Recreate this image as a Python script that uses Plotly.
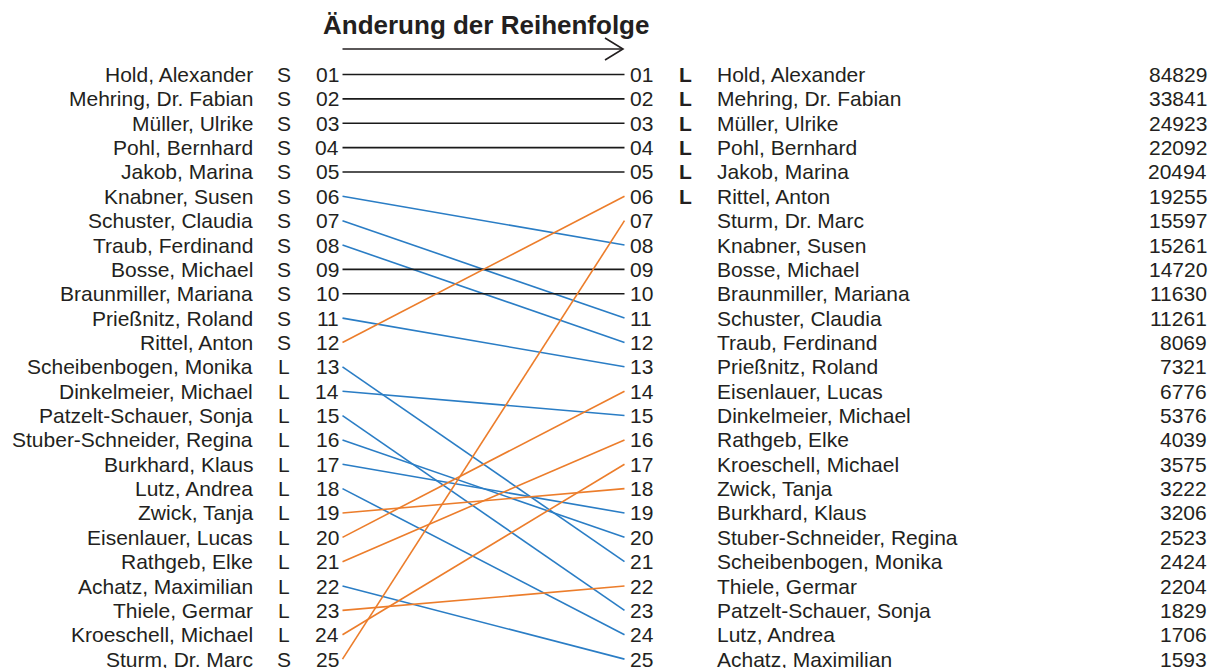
import plotly.graph_objects as go

# ---------------- data ----------------
left_names = [
    "Hold, Alexander", "Mehring, Dr. Fabian", "Müller, Ulrike", "Pohl, Bernhard",
    "Jakob, Marina", "Knabner, Susen", "Schuster, Claudia", "Traub, Ferdinand",
    "Bosse, Michael", "Braunmiller, Mariana", "Prießnitz, Roland", "Rittel, Anton",
    "Scheibenbogen, Monika", "Dinkelmeier, Michael", "Patzelt-Schauer, Sonja",
    "Stuber-Schneider, Regina", "Burkhard, Klaus", "Lutz, Andrea", "Zwick, Tanja",
    "Eisenlauer, Lucas", "Rathgeb, Elke", "Achatz, Maximilian", "Thiele, Germar",
    "Kroeschell, Michael", "Sturm, Dr. Marc",
]
left_party = ["S"] * 12 + ["L"] * 12 + ["S"]

right_names = [
    "Hold, Alexander", "Mehring, Dr. Fabian", "Müller, Ulrike", "Pohl, Bernhard",
    "Jakob, Marina", "Rittel, Anton", "Sturm, Dr. Marc", "Knabner, Susen",
    "Bosse, Michael", "Braunmiller, Mariana", "Schuster, Claudia", "Traub, Ferdinand",
    "Prießnitz, Roland", "Eisenlauer, Lucas", "Dinkelmeier, Michael", "Rathgeb, Elke",
    "Kroeschell, Michael", "Zwick, Tanja", "Burkhard, Klaus", "Stuber-Schneider, Regina",
    "Scheibenbogen, Monika", "Thiele, Germar", "Patzelt-Schauer, Sonja", "Lutz, Andrea",
    "Achatz, Maximilian",
]
right_party = ["L"] * 6 + [""] * 19
votes = [84829, 33841, 24923, 22092, 20494, 19255, 15597, 15261, 14720, 11630,
         11261, 8069, 7321, 6776, 5376, 4039, 3575, 3222, 3206, 2523, 2424, 2204,
         1829, 1706, 1593]

title_text = "Änderung der Reihenfolge"

# ---------------- layout constants ----------------
W, H = 1208, 668
ROW0_PX, ROW_STEP = 74.5, 24.36


def px_to_rank(py):
    return 1 + (py - ROW0_PX) / ROW_STEP


X_LNAME, X_LPARTY, X_LRANK = 253, 283.5, 338.5
X_LINE_L, X_LINE_R = 342.5, 624.5
X_RRANK, X_RPARTY, X_RNAME, X_VOTES = 630, 685.5, 717, 1206.5

TXT = "#231f20"
C_SAME, C_DOWN, C_UP = "#1a1a1a", "#2a7dc5", "#ec7d2b"
FONT = "Liberation Sans, Arial, Helvetica, sans-serif"
FS = 21

fig = go.Figure()

# connection lines
n = len(left_names)
for i, nm in enumerate(left_names):
    r_left = i + 1
    r_right = right_names.index(nm) + 1
    if r_right == r_left:
        col = C_SAME
    elif r_right > r_left:
        col = C_DOWN
    else:
        col = C_UP
    fig.add_trace(go.Scatter(x=[X_LINE_L, X_LINE_R], y=[r_left, r_right], mode="lines",
                             line=dict(color=col, width=1.6), hoverinfo="skip",
                             showlegend=False))

# arrow under title
ay = px_to_rank(49)
fig.add_trace(go.Scatter(x=[X_LINE_L, 623], y=[ay, ay], mode="lines",
                         line=dict(color=TXT, width=1.6), hoverinfo="skip", showlegend=False))
fig.add_trace(go.Scatter(x=[605, 623, 605], y=[px_to_rank(38), ay, px_to_rank(60)], mode="lines",
                         line=dict(color=TXT, width=1.6), hoverinfo="skip", showlegend=False))

annots = []


def ann(x, y, text, anchor, size=FS, bold=False):
    annots.append(dict(x=x, y=y, xref="x", yref="y", text=f"<b>{text}</b>" if bold else text,
                       showarrow=False, xanchor=anchor, yanchor="middle",
                       borderpad=0, borderwidth=0,
                       font=dict(family=FONT, size=size, color=TXT)))


for i in range(n):
    r = i + 1
    ann(X_LNAME, r, left_names[i], "right")
    ann(X_LPARTY, r, left_party[i], "center")
    ann(X_LRANK, r, f"{r:02d}", "right")
    ann(X_RRANK, r, f"{r:02d}", "left")
    if right_party[i]:
        ann(X_RPARTY, r, right_party[i], "center", bold=True)
    ann(X_RNAME, r, right_names[i], "left")
    ann(X_VOTES, r, str(votes[i]), "right")

ann(486, px_to_rank(25), title_text, "center", size=26, bold=True)

fig.update_layout(
    width=W, height=H,
    margin=dict(l=0, r=0, t=0, b=0),
    paper_bgcolor="white", plot_bgcolor="white",
    xaxis=dict(range=[0, W], visible=False, fixedrange=True),
    yaxis=dict(range=[px_to_rank(H), px_to_rank(0)], visible=False, fixedrange=True),
    annotations=annots,
    showlegend=False,
)

fig.write_html("out.html", config={"displayModeBar": False},
               post_script="document.body.style.margin='0';document.body.style.padding='0';"
                           "document.body.style.overflow='hidden';")
